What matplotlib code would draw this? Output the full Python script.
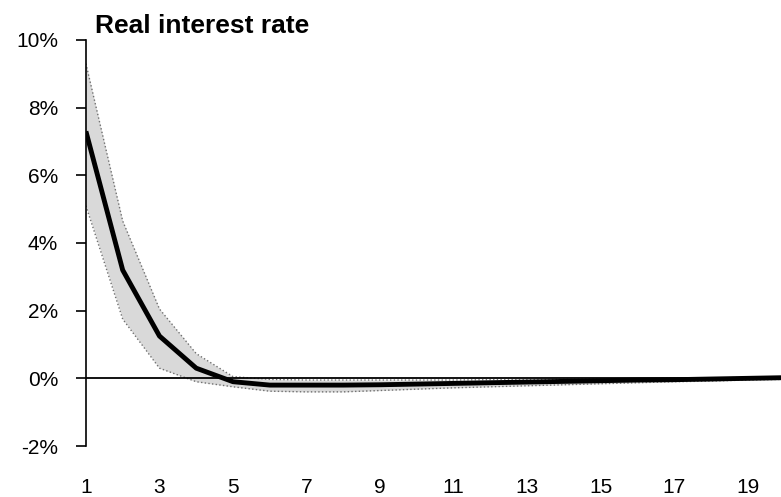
import matplotlib
matplotlib.use("Agg")
import matplotlib.pyplot as plt
from matplotlib.ticker import PercentFormatter

plt.rcParams['font.family'] = ['Liberation Sans', 'DejaVu Sans']
plt.rcParams['axes.unicode_minus'] = False

# horizon (periods)
periods = list(range(1, 21))

# impulse response, percent
mean = [7.3, 3.2, 1.25, 0.3, -0.1, -0.2, -0.2, -0.2, -0.19, -0.17,
        -0.15, -0.13, -0.11, -0.09, -0.07, -0.05, -0.04, -0.02, 0.0, 0.02]
upper = [9.3, 4.65, 2.05, 0.73, 0.05, -0.03, -0.05, -0.05, -0.05, -0.05,
         -0.05, -0.04, -0.04, -0.03, -0.02, -0.01, 0.0, 0.01, 0.03, 0.05]
lower = [5.1, 1.75, 0.3, -0.1, -0.25, -0.38, -0.4, -0.4, -0.36, -0.32,
         -0.28, -0.25, -0.22, -0.19, -0.16, -0.13, -0.1, -0.08, -0.05, -0.03]

yticks = [-2, 0, 2, 4, 6, 8, 10]
xticks = [1, 3, 5, 7, 9, 11, 13, 15, 17, 19]

fig = plt.figure(figsize=(7.81, 4.97), dpi=100)
ax = fig.add_axes([0.110, 0.1026, 0.890, 0.817])

ax.fill_between(periods, lower, upper, color='#d9d9d9', lw=0)
ax.plot(periods, upper, color='#707070', lw=1.0, ls=':')
ax.plot(periods, lower, color='#707070', lw=1.0, ls=':')
ax.axhline(0, color='black', lw=1.3)
ax.plot(periods, mean, color='black', lw=3.5, solid_capstyle='butt')

ax.set_xlim(1, 19.9)
ax.set_ylim(-2, 10)
ax.set_yticks(yticks)
ax.set_xticks(xticks)
ax.yaxis.set_major_formatter(PercentFormatter(decimals=0))

for side in ['top', 'right', 'bottom']:
    ax.spines[side].set_visible(False)
ax.spines['left'].set_linewidth(1.2)

ax.tick_params(axis='y', direction='out', length=7, width=1.2, pad=13,
               labelsize=15, labelcolor='black')
ax.tick_params(axis='x', length=0, pad=23, labelsize=15)

fig.text(95 / 781, 1 - 33 / 497, 'Real interest rate', fontsize=19,
         fontweight='bold', ha='left', va='baseline')

fig.savefig('out.png', dpi=100)
